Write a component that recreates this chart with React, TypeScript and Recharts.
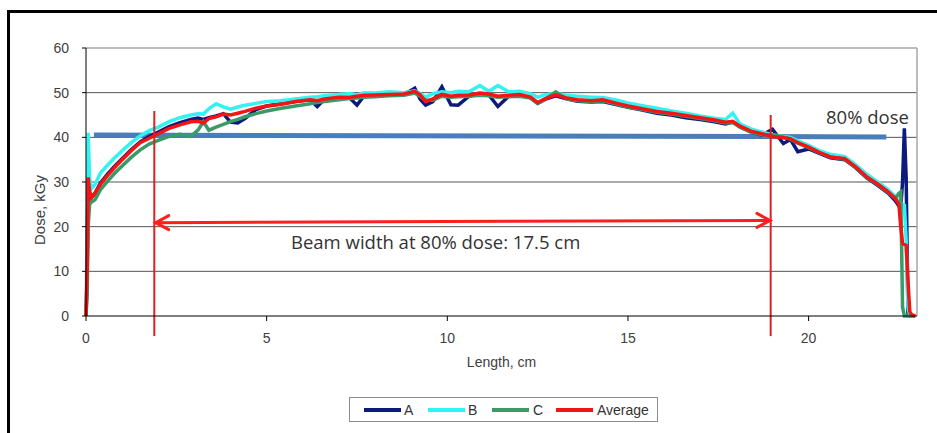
import React from "react"
import { LineChart, Line, XAxis, YAxis, ReferenceLine } from "recharts"

// Beam profile along the length (cm)
const LENGTH = [
  0, 0.03, 0.06, 0.1, 0.15, 0.25, 0.4, 0.6, 0.8, 1.0,
  1.25, 1.5, 1.75, 2.0, 2.3, 2.6, 2.9, 3.1, 3.25, 3.4,
  3.6, 3.8, 4.0, 4.2, 4.4, 4.7, 5.0, 5.4, 5.8, 6.2,
  6.4, 6.6, 7.0, 7.3, 7.5, 7.7, 8.0, 8.4, 8.8, 9.1,
  9.25, 9.4, 9.6, 9.85, 10.1, 10.3, 10.6, 10.9, 11.15, 11.4,
  11.7, 12.0, 12.3, 12.5, 12.7, 13.0, 13.3, 13.6, 14.0, 14.3,
  14.7, 15.0, 15.4, 15.8, 16.2, 16.6, 17.0, 17.4, 17.7, 17.9,
  18.1, 18.4, 18.7, 19.0, 19.3, 19.5, 19.7, 20.0, 20.3, 20.6,
  21.0, 21.3, 21.6, 21.9, 22.2, 22.4, 22.5, 22.55, 22.6, 22.65,
  22.7, 22.75, 22.8, 22.85, 22.95,
]

const DOSE_A = [
  0, 8, 28, 27.5, 26.5, 27.5, 29.8, 31.8, 33.6, 35.2,
  37.2, 39, 40.2, 41.2, 42.4, 43.3, 44.0, 44.3, 44.0, 44.4,
  44.8, 45.3, 43.4, 43.2, 44.2, 46.2, 47.0, 47.5, 48.0, 48.4,
  46.9, 48.5, 48.9, 48.8, 47.2, 49.3, 49.4, 49.5, 49.6, 51.0,
  48.5, 47.2, 48.0, 51.3, 47.3, 47.2, 49.2, 49.8, 49.5, 46.9,
  49.2, 49.5, 48.9, 47.6, 48.5, 49.3, 48.6, 48.1, 47.9, 48.0,
  47.3, 46.7, 46.1, 45.4, 45.0, 44.4, 44.0, 43.5, 43.0, 43.4,
  42.3, 41.2, 40.5, 41.8, 38.6, 39.5, 36.8, 37.4, 36.4, 35.4,
  35.0, 33.2, 31.0, 29.3, 27.5, 25.8, 24.6, 24.3, 30, 42,
  31, 0.5, 0, 0, 0,
]

const DOSE_B = [
  0, 20, 41, 31, 28.5, 29.5, 32, 33.8, 35.5, 37,
  38.8, 40.3, 41.5, 42.3, 43.5, 44.4, 45, 45.3, 45.2, 46.4,
  47.5, 46.8, 46.3, 46.8, 47.2, 47.6, 48.0, 48.2, 48.6, 49.0,
  49.1, 49.3, 49.6, 49.8, 49.5, 50.0, 49.9, 50.2, 50.0, 50.4,
  49.8, 49.0, 49.8, 50.2, 50.0, 50.3, 50.2, 51.6, 50.3, 51.6,
  50.2, 50.3, 49.8, 49.0, 49.5, 49.9, 49.4, 49.2, 49.0, 48.9,
  48.3, 47.7, 47.1, 46.5, 45.9, 45.4, 44.8, 44.3, 44.0, 45.4,
  43.0, 41.9, 41.2, 40.6, 40.2, 40.0, 39.2, 38.2, 37.0, 36.2,
  35.7, 33.9, 31.8, 30.1, 28.3, 26.8, 25.5, 25.3, 25, 24.8,
  17, 2, 0, 0, 0,
]

const DOSE_C = [
  0, 5, 20, 25, 25.5, 26, 28.3, 30.2, 32, 33.6,
  35.5, 37.2, 38.5, 39.3, 40.2, 40.7, 40.2, 41.6, 43.5, 41.6,
  42.3, 42.9, 43.5, 44.0, 44.6, 45.3, 45.9, 46.5, 47.0, 47.5,
  47.8, 48.0, 48.4, 48.7, 48.8, 49.0, 49.1, 49.3, 49.4, 49.9,
  49.2, 48.3, 48.3, 49.2, 49.0, 49.1, 49.2, 49.4, 49.3, 49.0,
  49.1, 49.2, 48.8, 47.6, 48.5, 50.2, 48.6, 48.2, 48.0, 48.2,
  47.4, 46.8, 46.2, 45.6, 45.2, 44.7, 44.2, 43.7, 43.2, 43.3,
  42.3, 41.2, 40.6, 40.6, 40.1, 39.6, 38.7, 37.7, 36.6, 35.6,
  35.1, 33.3, 31.1, 29.5, 27.7, 26.3, 27.5, 27.8, 2, 0,
  0, 0, 0, 0, 0,
]

const DOSE_AVG = [
  0, 10, 31, 28, 26.5, 27.5, 29.5, 31.5, 33.3, 35,
  37, 38.8, 39.8, 40.8, 42, 42.8, 43.5, 43.6, 43.2, 44.2,
  44.6, 45.2, 45.0, 45.4, 45.8, 46.5, 47.0, 47.4, 48.0, 48.4,
  48.2, 48.6, 49.0, 49.0, 49.2, 49.4, 49.5, 49.6, 49.7, 50.3,
  49.5, 48.0, 48.6, 49.6, 49.2, 49.4, 49.5, 49.9, 49.7, 49.2,
  49.4, 49.6, 49.0, 47.8, 48.6, 49.5, 48.8, 48.4, 48.2, 48.4,
  47.6, 47.0, 46.4, 45.8, 45.4, 44.9, 44.4, 43.9, 43.4, 43.6,
  42.5, 41.4, 40.8, 40.2, 39.9, 39.7, 38.8, 37.8, 36.6, 35.6,
  35.2, 33.4, 31.2, 29.6, 27.8, 26.3, 25.0, 20, 16.3, 16.0,
  15.8, 8, 1, 0.3, 0,
]

const X_TICKS = [0, 5, 10, 15, 20]
const Y_TICKS = [0, 10, 20, 30, 40, 50, 60]
const GRID_Y = [10, 20, 30, 40, 50]

// 80% dose level line and beam-width markers
const DOSE80_X = [0.22, 22.15]
const DOSE80_Y = [40.5, 40.1]
const EDGE_X = [1.89, 18.95]
const EDGE_TOP = [45.9, 45.0]
const EDGE_BOTTOM = -4.5
const ARROW_X = [1.93, 18.93]
const ARROW_Y = [20.9, 21.4]

const SERIES = [
  { key: "A", values: DOSE_A, color: "#0c1a7e" },
  { key: "B", values: DOSE_B, color: "#33f2f2" },
  { key: "C", values: DOSE_C, color: "#3a9a68" },
  { key: "Average", values: DOSE_AVG, color: "#f51414" },
]

const data = LENGTH.map((x, i) => {
  const row: Record<string, number> = { x }
  SERIES.forEach(s => { row[s.key] = s.values[i] })
  return row
})

const AXIS_FONT = "'Liberation Sans', Arial, sans-serif"
const NOTE_FONT = "'Open Sans', 'Noto Sans', sans-serif"

function DoubleArrow(p: any) {
  const { x1, y1, x2, y2 } = p
  const c = "#ff1e1e"
  const len = 13, spread = 7
  return (
    <g stroke={c} strokeWidth={3} fill="none" strokeLinecap="round">
      <line x1={x1} y1={y1} x2={x2} y2={y2} />
      <polyline points={`${x1 + len},${y1 - spread} ${x1},${y1} ${x1 + len},${y1 + spread}`} />
      <polyline points={`${x2 - len},${y2 - spread} ${x2},${y2} ${x2 - len},${y2 + spread}`} />
    </g>
  )
}

export default function App() {
  return (
    <div style={{ position: "fixed", left: 0, top: 0, width: 937, height: 433, overflow: "hidden", background: "#fff" }}>
      <div style={{ position: "absolute", left: 7, top: 10, width: 960, height: 460, borderLeft: "3px solid #000", borderTop: "3px solid #000" }} />

      <div style={{ position: "absolute", left: 0, top: 0 }}>
        <LineChart width={937} height={433} data={data} margin={{ top: 48, right: 20, left: 56, bottom: 87 }}>
          <XAxis
            dataKey="x"
            type="number"
            domain={[0, 23]}
            ticks={X_TICKS}
            interval={0}
            axisLine={{ stroke: "#000" }}
            tickLine={{ stroke: "#000" }}
            tickSize={5}
            tickMargin={12}
            height={30}
            tick={{ fill: "#404040", fontSize: 14, fontFamily: AXIS_FONT }}
            label={{ value: "Length, cm", position: "bottom", offset: 11, fill: "#404040", fontSize: 14, fontFamily: AXIS_FONT }}
          />
          <YAxis
            type="number"
            domain={[0, 60]}
            ticks={Y_TICKS}
            interval={0}
            width={30}
            axisLine={{ stroke: "#000" }}
            tickLine={{ stroke: "#000" }}
            tickSize={4}
            tickMargin={13}
            tick={{ fill: "#404040", fontSize: 14, fontFamily: AXIS_FONT }}
          />

          {GRID_Y.map(v => (
            <ReferenceLine key={v} y={v} stroke="#555" strokeWidth={1} />
          ))}
          <ReferenceLine y={60} stroke="#a6a6a6" strokeWidth={1.5} />
          <ReferenceLine x={23} stroke="#a6a6a6" strokeWidth={1.5} />

          <ReferenceLine
            segment={[{ x: DOSE80_X[0], y: DOSE80_Y[0] }, { x: DOSE80_X[1], y: DOSE80_Y[1] }]}
            stroke="#4a7dbb"
            strokeWidth={5}
          />

          {SERIES.map(s => (
            <Line
              key={s.key}
              dataKey={s.key}
              type="linear"
              stroke={s.color}
              strokeWidth={3.5}
              dot={false}
              isAnimationActive={false}
            />
          ))}

          {EDGE_X.map((x, i) => (
            <ReferenceLine
              key={x}
              segment={[{ x, y: EDGE_TOP[i] }, { x, y: EDGE_BOTTOM }]}
              stroke="#e02020"
              strokeWidth={2}
              ifOverflow="visible"
            />
          ))}
          <ReferenceLine
            segment={[{ x: ARROW_X[0], y: ARROW_Y[0] }, { x: ARROW_X[1], y: ARROW_Y[1] }]}
            shape={(p: any) => <DoubleArrow {...p} />}
          />
        </LineChart>
      </div>

      {/* y axis title */}
      <div style={{ position: "absolute", left: 40, top: 210, width: 0, height: 0 }}>
        <div style={{ position: "absolute", left: -60, top: -10, width: 120, textAlign: "center", transform: "rotate(-90deg)", fontFamily: AXIS_FONT, fontSize: 15, color: "#404040", lineHeight: "20px", whiteSpace: "nowrap" }}>
          Dose, kGy
        </div>
      </div>

      <div style={{ position: "absolute", left: 291, top: 229, fontFamily: NOTE_FONT, fontSize: 18.5, lineHeight: "26px", color: "#333", whiteSpace: "nowrap" }}>
        Beam width at 80% dose: 17.5 cm
      </div>
      <div style={{ position: "absolute", left: 826, top: 104, fontFamily: NOTE_FONT, fontSize: 18.5, lineHeight: "26px", color: "#333", whiteSpace: "nowrap" }}>
        80% dose
      </div>

      <div style={{ position: "absolute", left: 349, top: 397, width: 307, height: 23, border: "1px solid #8c8c8c", boxSizing: "content-box" }}>
        {[
          { s: SERIES[0], sw: 364, tx: 404 },
          { s: SERIES[1], sw: 428, tx: 468 },
          { s: SERIES[2], sw: 492, tx: 533 },
          { s: SERIES[3], sw: 556, tx: 597 },
        ].map(({ s, sw, tx }) => (
          <React.Fragment key={s.key}>
            <div style={{ position: "absolute", left: sw - 350, top: 10, width: 37, height: 4, background: s.color }} />
            <div style={{ position: "absolute", left: tx - 350, top: 4, fontFamily: AXIS_FONT, fontSize: 14, color: "#333", lineHeight: "16px" }}>
              {s.key}
            </div>
          </React.Fragment>
        ))}
      </div>
    </div>
  )
}
